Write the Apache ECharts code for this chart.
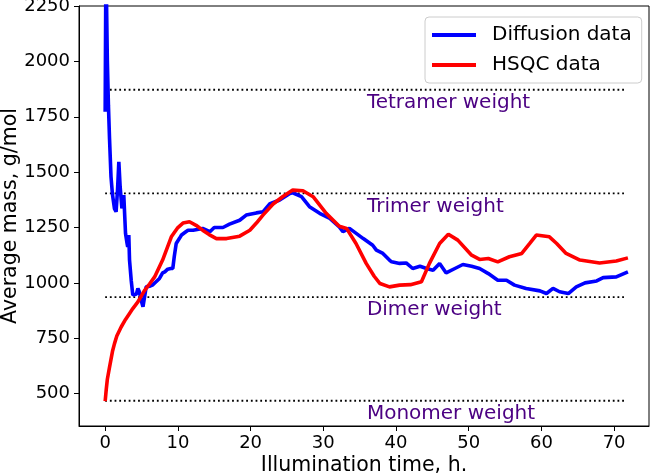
<!DOCTYPE html>
<html>
<head>
<meta charset="utf-8">
<script src="https://cdn.jsdelivr.net/npm/echarts@6/dist/echarts.min.js"></script>
<style>html,body{margin:0;padding:0;background:#fff;}#c{width:654px;height:476px;}</style>
</head>
<body>
<div id="c"></div>
<script>
// Diffusion data (blue)
var diffusionTime = [0, 0.08, 0.15, 0.3, 0.45, 0.6, 0.8, 1.0, 1.28, 1.5, 1.7, 1.88, 2.06, 2.3, 2.56, 2.8, 3.0, 3.1, 3.25, 3.35, 3.58, 3.8, 4.03, 4.3, 4.5, 4.7, 4.95, 5.2, 5.64, 6.1, 6.5, 7.0, 7.47, 7.9, 8.2, 8.6, 9.0, 9.3, 9.5, 9.77, 10.2, 10.5, 11.1, 11.4, 12.1, 12.3, 13.4, 14.4, 15.0, 16.2, 17.1, 18.5, 19.4, 20.8, 21.7, 22.6, 24.0, 25.4, 25.8, 27.0, 28.1, 29.5, 30.9, 32.2, 32.7, 33.6, 35.5, 36.8, 37.3, 38.2, 39.1, 39.4, 40.5, 41.4, 42.3, 43.3, 44.2, 45.1, 46.0, 46.9, 48.1, 49.2, 50.4, 51.5, 52.7, 54.0, 55.2, 56.3, 57.9, 59.8, 60.7, 61.6, 62.5, 63.7, 64.8, 66.0, 67.6, 68.5, 70.3, 71.9];
var diffusionMass = [1773, 2300, 2350, 2000, 1800, 1650, 1480, 1400, 1335, 1321, 1420, 1547, 1434, 1336, 1396, 1223, 1180, 1163, 1216, 1103, 1012, 945, 952, 950, 975, 960, 922, 892, 982, 985, 990, 1005, 1020, 1045, 1050, 1062, 1065, 1065, 1118, 1178, 1200, 1216, 1231, 1238, 1238, 1246, 1246, 1231, 1250, 1250, 1265, 1283, 1306, 1316, 1321, 1356, 1374, 1404, 1407, 1389, 1344, 1314, 1291, 1253, 1231, 1246, 1200, 1170, 1148, 1133, 1103, 1095, 1088, 1090, 1065, 1075, 1065, 1057, 1088, 1045, 1065, 1083, 1075, 1065, 1042, 1012, 1012, 990, 975, 964, 952, 975, 960, 952, 982, 1000, 1009, 1024, 1027, 1050];

// HSQC data (red)
var hsqcTime = [0, 0.15, 0.3, 0.6, 1.0, 1.28, 1.6, 2.2, 2.8, 3.35, 3.8, 4.5, 5.4, 6.1, 6.8, 7.9, 9.1, 10.0, 10.7, 11.6, 12.5, 13.4, 14.3, 15.3, 16.7, 18.5, 19.9, 20.8, 21.7, 23.1, 24.4, 25.8, 27.2, 28.6, 30.4, 32.2, 33.2, 34.5, 35.9, 37.0, 37.8, 39.1, 40.5, 42.0, 43.5, 44.6, 46.0, 47.2, 48.5, 50.4, 51.5, 52.7, 54.0, 55.6, 57.3, 58.4, 59.3, 61.1, 62.1, 63.4, 65.3, 68.0, 70.3, 71.9];
var hsqcMass = [466, 520, 565, 620, 690, 726, 760, 801, 835, 862, 884, 914, 965, 995, 1027, 1103, 1208, 1250, 1270, 1276, 1260, 1238, 1218, 1200, 1200, 1211, 1238, 1270, 1306, 1356, 1389, 1419, 1416, 1389, 1314, 1256, 1246, 1178, 1088, 1030, 997, 982, 990, 992, 1005, 1088, 1178, 1220, 1193, 1125, 1106, 1110, 1095, 1118, 1133, 1178, 1216, 1208, 1178, 1133, 1103, 1090, 1099, 1113];

// Reference weights
var refNames = ["Monomer weight", "Dimer weight", "Trimer weight", "Tetramer weight"];
var refMass = [468, 936, 1404, 1872];
var refStart = 0, refEnd = 71.7, refLabelTime = 36;

var xTicks = [0, 10, 20, 30, 40, 50, 60, 70];
var yTicks = [500, 750, 1000, 1250, 1500, 1750, 2000, 2250];

function zip(a, b) { return a.map(function (v, i) { return [v, b[i]]; }); }

var FONT = 'DejaVu Sans';
var series = [];
refMass.forEach(function (m) {
  series.push({
    type: 'line', data: [[refStart, m], [refEnd, m]], showSymbol: false, silent: true,
    lineStyle: { color: '#000', width: 1.8, type: [1.8, 2.9], cap: 'butt' }, z: 1
  });
});
series.push({
  name: 'Diffusion data', type: 'line', data: zip(diffusionTime, diffusionMass),
  showSymbol: false, lineStyle: { color: '#0000ff', width: 3.6 }, itemStyle: { color: '#0000ff' }, z: 2
});
series.push({
  name: 'HSQC data', type: 'line', data: zip(hsqcTime, hsqcMass),
  showSymbol: false, lineStyle: { color: '#ff0000', width: 3.6 }, itemStyle: { color: '#ff0000' }, z: 3
});

var chart = echarts.init(document.getElementById('c'), null, { renderer: 'canvas' });
chart.setOption({
  animation: false,
  backgroundColor: '#fff',
  grid: { left: 79, right: 5, top: 6, bottom: 50, containLabel: false, outerBoundsMode: 'none', show: true, borderColor: '#000', borderWidth: 1, backgroundColor: 'transparent' },
  legend: {
    left: 425, top: 17, orient: 'vertical',
    data: [{ name: 'Diffusion data', icon: 'rect' }, { name: 'HSQC data', icon: 'rect' }],
    itemWidth: 44, itemHeight: 4, itemGap: 10,
    padding: [8, 10, 8, 7],
    borderColor: '#cccccc', borderWidth: 1, borderRadius: 4, backgroundColor: 'rgba(255,255,255,0.85)',
    textStyle: { fontFamily: FONT, fontSize: 20, color: '#000', lineHeight: 20, padding: [0, 0, 0, 11] }
  },
  xAxis: {
    type: 'value', min: -3.6, max: 74.8,
    name: 'Illumination time, h.', nameLocation: 'middle', nameGap: 29, nameMoveOverlap: false,
    nameTextStyle: { fontFamily: FONT, fontSize: 20.5, color: '#000' },
    axisLine: { show: true, onZero: false, lineStyle: { color: '#000', width: 1 } },
    axisTick: { show: true, length: 5, lineStyle: { color: '#000' }, customValues: xTicks },
    axisLabel: { fontFamily: FONT, fontSize: 18, color: '#000', margin: 8, customValues: xTicks },
    splitLine: { show: false }
  },
  yAxis: {
    type: 'value', min: 354, max: 2250,
    name: 'Average mass, g/mol', nameLocation: 'middle', nameGap: 58, nameMoveOverlap: false,
    nameTextStyle: { fontFamily: FONT, fontSize: 20.5, color: '#000' },
    axisLine: { show: true, onZero: false, lineStyle: { color: '#000', width: 1 } },
    axisTick: { show: true, length: 5, lineStyle: { color: '#000' }, customValues: yTicks },
    axisLabel: { fontFamily: FONT, fontSize: 18, color: '#000', margin: 9, customValues: yTicks,
      formatter: function (v) { return String(v); } },
    splitLine: { show: false }
  },
  series: series
});

// Reference labels positioned through the chart's own scales
var graphics = refMass.map(function (m, i) {
  var p = chart.convertToPixel({ gridIndex: 0 }, [refLabelTime, m]);
  return {
    type: 'text', x: p[0], y: p[1] + 13, z: 10,
    style: { text: refNames[i], fill: '#4b0082', font: '20px "DejaVu Sans"', align: 'left', verticalAlign: 'middle' }
  };
});
chart.setOption({ graphic: graphics });
</script>
</body>
</html>
